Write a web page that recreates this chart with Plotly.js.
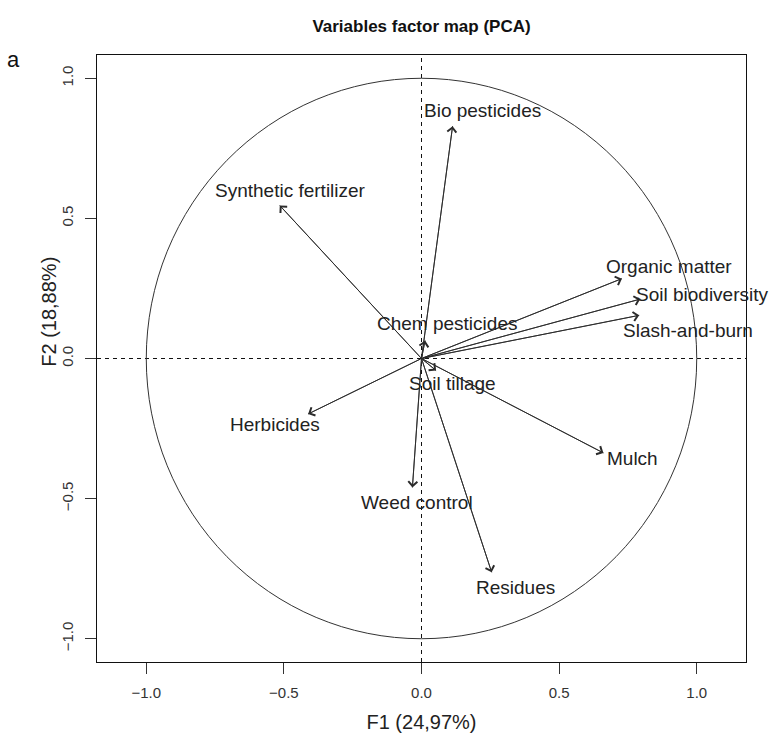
<!DOCTYPE html>
<html>
<head>
<meta charset="utf-8">
<script src="https://cdn.plot.ly/plotly-3.0.1.min.js"></script>
<style>
  html, body { margin: 0; padding: 0; background: #fff; }
  #chart { width: 772px; height: 744px; }
</style>
</head>
<body>
<div id="chart"></div>
<script>
// ---- Data ----
const variables = ['Bio pesticides', 'Synthetic fertilizer', 'Organic matter', 'Soil biodiversity',
                   'Slash-and-burn', 'Chem pesticides', 'Soil tillage', 'Herbicides', 'Mulch',
                   'Weed control', 'Residues'];
const dim1 = [0.113, -0.515, 0.728, 0.795, 0.791, 0.013, 0.053, -0.412, 0.661, -0.033, 0.255];
const dim2 = [0.829, 0.546, 0.285, 0.212, 0.154, 0.064, -0.043, -0.198, -0.337, -0.460, -0.763];
const xTickVals = [-1.0, -0.5, 0.0, 0.5, 1.0];
const xTickText = ['\u22121.0', '\u22120.5', '0.0', '0.5', '1.0'];
const yTickVals = [-1.0, -0.5, 0.0, 0.5, 1.0];
const yTickText = ['\u22121.0', '\u22120.5', '0.0', '0.5', '1.0'];
const circleRadius = 1;

// ---- Label placement (pixel offsets from arrow tips, layout only) ----
const labelShiftX = [30, 11, 47, 62, 49, 22, 16, -33, 29, 5, 24];
const labelShiftY = [16, 15, 12, 5, -15, 17, -13, -11, -6, -15, -15];

const ink = '#2b2b2b';
const sans = 'Liberation Sans, Arial, sans-serif';
const labelFont = { family: sans, size: 19, color: '#222' };

// arrow shafts from origin
const shaftX = [], shaftY = [];
variables.forEach((v, i) => { shaftX.push(0, dim1[i], null); shaftY.push(0, dim2[i], null); });

const traces = [{
  type: 'scatter', mode: 'lines', x: shaftX, y: shaftY,
  line: { color: ink, width: 1 }, hoverinfo: 'skip', showlegend: false
}, {
  type: 'scatter', mode: 'markers', x: dim1, y: dim2, text: variables,
  marker: { size: 1, opacity: 0 }, hovertemplate: '%{text}<br>F1 %{x}<br>F2 %{y}<extra></extra>',
  showlegend: false
}];

const annotations = [];
variables.forEach((v, i) => {
  annotations.push({
    x: dim1[i], y: dim2[i], xref: 'x', yref: 'y',
    ax: 0, ay: 0, axref: 'x', ayref: 'y',
    text: '', showarrow: true, arrowhead: 4, arrowsize: 2.2, arrowwidth: 0.8,
    arrowcolor: ink, standoff: 0, startstandoff: 0
  });
  annotations.push({
    x: dim1[i], y: dim2[i], xref: 'x', yref: 'y',
    text: v, showarrow: false, xanchor: 'center', yanchor: 'middle',
    xshift: labelShiftX[i], yshift: labelShiftY[i], font: labelFont
  });
});
// y-axis title (placed as in the reference)
annotations.push({
  xref: 'paper', yref: 'paper', x: -0.074, y: 0.577, xanchor: 'center', yanchor: 'middle',
  text: 'F2 (18,88%)', textangle: -90, showarrow: false,
  font: { family: sans, size: 20, color: '#222' }
});
// panel letter
annotations.push({
  xref: 'paper', yref: 'paper', x: -0.128, y: 0.992, xanchor: 'center', yanchor: 'middle',
  text: 'a', showarrow: false,
  font: { family: sans, size: 22, color: '#111' }
});

const axisCommon = {
  showgrid: false, zeroline: false, showline: true, mirror: true,
  linecolor: '#111', linewidth: 1, ticks: 'outside', ticklen: 11, tickwidth: 1, tickcolor: '#333',
  tickmode: 'array', tickfont: { family: sans, size: 15, color: '#333' },
  ticklabelstandoff: 6, fixedrange: true
};

const layout = {
  width: 772, height: 744,
  margin: { l: 97, r: 26, t: 55, b: 82 },
  paper_bgcolor: '#fff', plot_bgcolor: '#fff',
  showlegend: false,
  title: {
    text: '<b>Variables factor map (PCA)</b>',
    x: 0.5, xref: 'paper', y: 1 - 26 / 744, yref: 'container', yanchor: 'middle', xanchor: 'center',
    font: { family: sans, size: 17, color: '#111' }
  },
  xaxis: Object.assign({}, axisCommon, {
    range: [-1.179, 1.179], tickvals: xTickVals, ticktext: xTickText,
    title: { text: 'F1 (24,97%)', standoff: 14, font: { family: sans, size: 20, color: '#222' } }
  }),
  yaxis: Object.assign({}, axisCommon, {
    range: [-1.083, 1.083], tickvals: yTickVals, ticktext: yTickText, tickangle: -90
  }),
  shapes: [
    { type: 'circle', xref: 'x', yref: 'y', x0: -circleRadius, x1: circleRadius, y0: -circleRadius, y1: circleRadius,
      line: { color: '#333', width: 1 }, layer: 'below' },
    { type: 'line', xref: 'x', yref: 'paper', x0: 0, x1: 0, y0: 0, y1: 1,
      line: { color: '#111', width: 1, dash: '4px,4px' }, layer: 'below' },
    { type: 'line', xref: 'paper', yref: 'y', x0: 0, x1: 1, y0: 0, y1: 0,
      line: { color: '#111', width: 1, dash: '4px,4px' }, layer: 'below' }
  ],
  annotations: annotations
};

Plotly.newPlot('chart', traces, layout, { displayModeBar: false, staticPlot: true });
</script>
</body>
</html>
